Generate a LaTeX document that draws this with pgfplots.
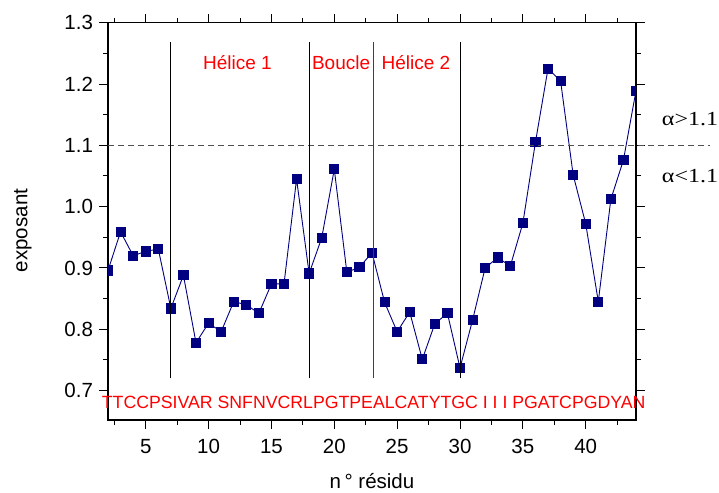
\documentclass[border=0pt]{standalone}
\usepackage{fontspec}
\setmainfont{Liberation Sans}
\newfontfamily\timesfont{Liberation Serif}
\usepackage{pgfplots}
\pgfplotsset{compat=1.18}
\definecolor{navy}{RGB}{0,0,128}
\definecolor{dashgray}{RGB}{80,80,80}

\begin{document}
\begin{tikzpicture}
\useasboundingbox (-108pt,-72pt) rectangle (611pt,420pt);
\begin{axis}[
    scale only axis,
    width=528pt, height=397.3pt,
    xmin=2, xmax=44,
    ymin=0.652, ymax=1.3,
    xtick={5,10,...,40},
    minor xtick={2.5,7.5,...,42.5},
    ytick={0.7,0.8,0.9,1.0,1.1,1.2,1.3},
    minor ytick={0.75,0.85,0.95,1.05,1.15,1.25},
    tick align=outside,
    tick pos=both,
    xticklabel pos=lower,
    yticklabel pos=left,
    major tick length=8.5pt,
    minor tick length=4.5pt,
    tick style={black, line width=1pt},
    axis line style={black, line width=1.6pt},
    /pgf/number format/assume math mode=true,
    yticklabel style={xshift=-3pt, /pgf/number format/.cd, fixed, fixed zerofill, precision=1},
    xticklabel style={yshift=-7pt},
    tick label style={font=\fontsize{20.5}{24}\selectfont},
    xlabel={n\,° résidu},
    ylabel={exposant},
    every axis x label/.style={at={(axis description cs:0.5,0)}, anchor=base, yshift=-68pt, font=\fontsize{20.5}{24}\selectfont},
    every axis y label/.style={at={(axis description cs:0,0.477)}, xshift=-85pt, rotate=90, anchor=center, font=\fontsize{20.5}{24}\selectfont},
    clip mode=individual,
    clip marker paths=true,
]
\addplot[navy, line width=0.9pt, mark=square*, mark size=4.6pt,
         mark options={solid, fill=navy, draw=navy}] coordinates {
    (2,0.896) (3,0.959) (4,0.920) (5,0.927) (6,0.931) (7,0.834)
    (8,0.888) (9,0.778) (10,0.810) (11,0.796) (12,0.845) (13,0.840)
    (14,0.826) (15,0.874) (16,0.874) (17,1.045) (18,0.891) (19,0.949)
    (20,1.061) (21,0.893) (22,0.901) (23,0.925) (24,0.844) (25,0.796)
    (26,0.828) (27,0.751) (28,0.809) (29,0.826) (30,0.737) (31,0.815)
    (32,0.900) (33,0.917) (34,0.903) (35,0.973) (36,1.105) (37,1.225)
    (38,1.205) (39,1.052) (40,0.972) (41,0.845) (42,1.012) (43,1.076)
    (44,1.189)
};

% seuil alpha = 1.1
\draw[dashgray, dash pattern=on 6pt off 4pt, line width=1pt]
    (axis cs:2,1.1) -- (axis cs:49.9,1.1);

% limites des domaines
\draw[black, line width=0.8pt] (axis cs:7,0.72) -- (axis cs:7,1.268);
\draw[black, line width=0.8pt] (axis cs:18,0.72) -- (axis cs:18,1.268);
\draw[black!75, line width=0.8pt] (axis cs:23.15,0.72) -- (axis cs:23.15,1.268);
\draw[black, line width=0.8pt] (axis cs:30,0.72) -- (axis cs:30,1.268);

\node[red, anchor=base, font=\fontsize{19}{22}\selectfont] at (axis cs:12.3,1.223) {Hélice 1};
\node[red, anchor=base, font=\fontsize{19}{22}\selectfont] at (axis cs:20.54,1.223) {Boucle};
\node[red, anchor=base, font=\fontsize{19}{22}\selectfont] at (axis cs:26.49,1.223) {Hélice 2};

\node[red, anchor=base west, inner sep=0pt, font=\fontsize{17.7}{20}\selectfont]
    at (axis cs:1.5,0.6704) {TTCCPSIVAR SNFNVCRLPGTPEALCATYTGC I I I PGATCPGDYAN};

\node[anchor=base west, inner sep=0pt, font=\timesfont\fontsize{20}{24}\selectfont]
    at (axis cs:46.05,1.1318) {\scalebox{1.2}[1]{α>1.1}};
\node[anchor=base west, inner sep=0pt, font=\timesfont\fontsize{20}{24}\selectfont]
    at (axis cs:46.05,1.0394) {\scalebox{1.2}[1]{α<1.1}};
\end{axis}
\end{tikzpicture}
\end{document}
